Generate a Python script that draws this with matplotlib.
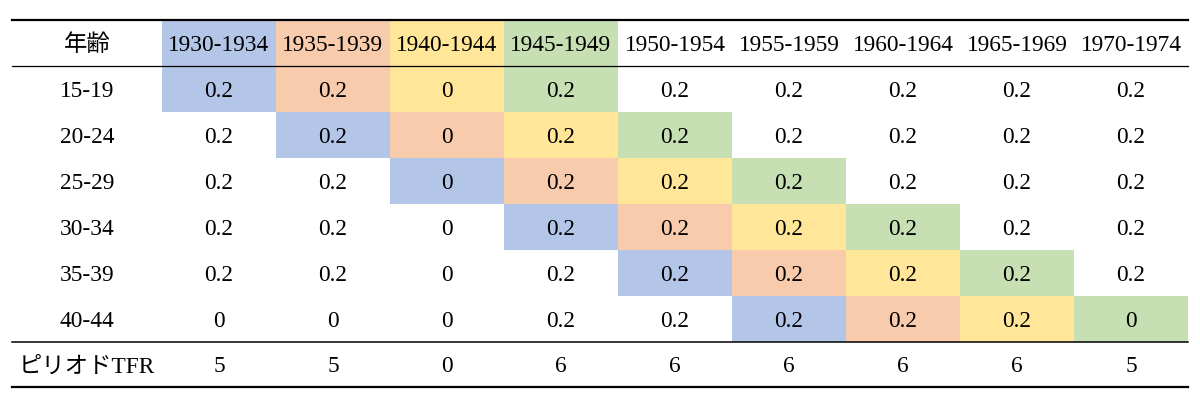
import matplotlib
matplotlib.use('Agg')
import matplotlib.pyplot as plt
from matplotlib.patches import Rectangle

plt.rcParams['font.family'] = ['Liberation Serif', 'Noto Sans CJK JP']

corner_label = '年齢'
cohorts = ['1930-1934', '1935-1939', '1940-1944', '1945-1949', '1950-1954',
           '1955-1959', '1960-1964', '1965-1969', '1970-1974']
ages = ['15-19', '20-24', '25-29', '30-34', '35-39', '40-44']
values = [
    ['0.2', '0.2', '0', '0.2', '0.2', '0.2', '0.2', '0.2', '0.2'],
    ['0.2', '0.2', '0', '0.2', '0.2', '0.2', '0.2', '0.2', '0.2'],
    ['0.2', '0.2', '0', '0.2', '0.2', '0.2', '0.2', '0.2', '0.2'],
    ['0.2', '0.2', '0', '0.2', '0.2', '0.2', '0.2', '0.2', '0.2'],
    ['0.2', '0.2', '0', '0.2', '0.2', '0.2', '0.2', '0.2', '0.2'],
    ['0', '0', '0', '0.2', '0.2', '0.2', '0.2', '0.2', '0'],
]
tfr_label = 'ピリオドTFR'
tfr = ['5', '5', '0', '6', '6', '6', '6', '6', '5']

# diagonal highlight colours (blue, orange, yellow, green)
diag_colors = ['#B4C6E7', '#F8CBAD', '#FFE699', '#C6E0B4']

fig = plt.figure(figsize=(12, 4.16), dpi=100)
ax = fig.add_axes([0, 0, 1, 1])
ax.set_xlim(0, 1200)
ax.set_ylim(416, 0)
ax.axis('off')

left, right = 12, 1188
first_w = 150
col_w = (right - left - first_w) / len(cohorts)
top = 20
row_h = 46
fs = 16.8
dy = 2.5  # nudge text down a little so digits sit centred

def col_x(j):
    return left + first_w + j * col_w

def row_y(i):
    # i = 0 header, 1..6 ages, 7 tfr
    return top + i * row_h

def cell_text(x, y, s):
    ax.text(x, y + dy, s, ha='center', va='center', fontsize=fs, zorder=3)

# coloured cells: header row uses the same pattern as the first age row
for i in range(len(ages) + 1):
    start = max(i - 1, 0)
    for k, c in enumerate(diag_colors):
        j = start + k
        if j < len(cohorts):
            ax.add_patch(Rectangle((col_x(j), row_y(i)), col_w, row_h,
                                   facecolor=c, edgecolor='none', zorder=1))

# header
cell_text(left + first_w / 2, row_y(0) + row_h / 2, corner_label)
for j, c in enumerate(cohorts):
    cell_text(col_x(j) + col_w / 2, row_y(0) + row_h / 2, c)

# body
for i, a in enumerate(ages):
    yc = row_y(i + 1) + row_h / 2
    cell_text(left + first_w / 2, yc, a)
    for j, v in enumerate(values[i]):
        cell_text(col_x(j) + col_w / 2, yc, v)

# TFR row
tfr_top = row_y(len(ages) + 1)
tfr_h = 45
yc = tfr_top + tfr_h / 2
cell_text(left + first_w / 2, yc, tfr_label)
for j, v in enumerate(tfr):
    cell_text(col_x(j) + col_w / 2, yc, v)

# rules
ax.plot([left, right], [top, top], color='black', lw=1.6, zorder=4)
ax.plot([left, right], [row_y(1), row_y(1)], color='black', lw=0.9, zorder=4)
ax.plot([left, right], [tfr_top, tfr_top], color='black', lw=1.1, zorder=4)
ax.plot([left, right], [tfr_top + tfr_h, tfr_top + tfr_h], color='black', lw=1.6, zorder=4)

fig.savefig('out.png', dpi=100)
